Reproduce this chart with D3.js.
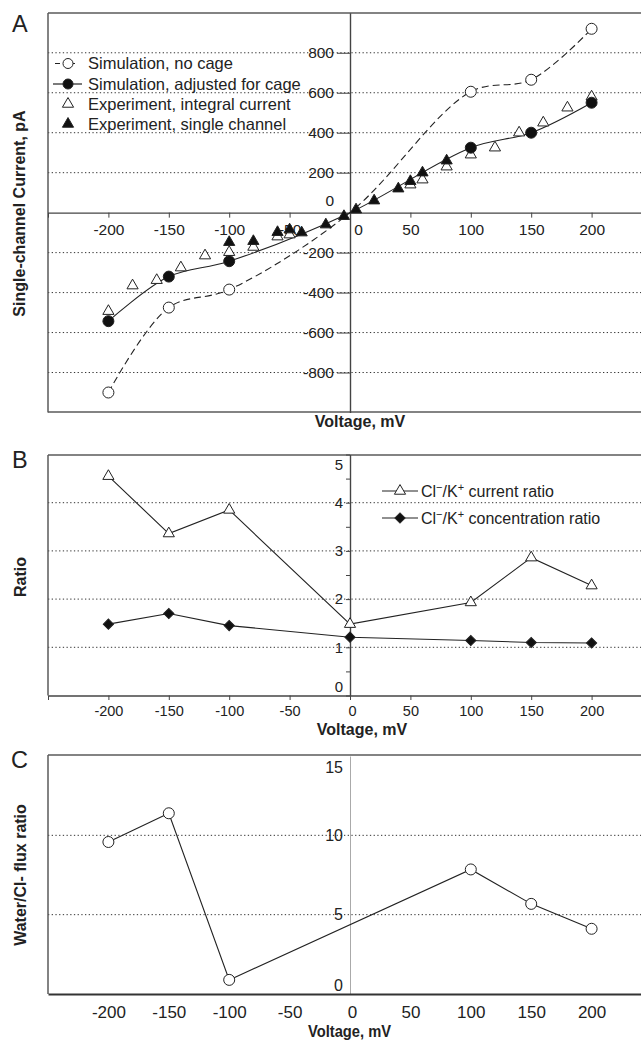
<!DOCTYPE html>
<html><head><meta charset="utf-8">
<script src="https://cdnjs.cloudflare.com/ajax/libs/d3/7.8.5/d3.min.js"></script>
<style>
body{margin:0;background:#fff}
svg{display:block}
text{font-family:"Liberation Sans",Arial,sans-serif;fill:#222}
</style>
</head><body><svg id="c" width="641" height="1040"></svg>
<script>
// ---------------- data ----------------
// Panel A
const simV = [-200, -150, -100, 0, 100, 150, 200];
const simNoCage = [-900, -475, -385, 0, 605, 665, 920];
const simCage = [-543, -320, -243, 0, 325, 400, 550];
const expIntV = [-200, -180, -160, -140, -120, -100, -80, -60, -50, 50, 60, 80, 100, 120, 140, 160, 180, 200];
const expIntI = [-493, -365, -338, -275, -215, -198, -172, -120, -110, 140, 165, 230, 290, 325, 400, 450, 525, 580];
const expSingleV = [-100, -80, -60, -50, -40, -20, -5, 5, 20, 40, 50, 60, 80];
const expSingleI = [-148, -143, -98, -85, -100, -60, -18, 15, 60, 120, 157, 200, 260];
const aYTicks = [-800, -600, -400, -200, 0, 200, 400, 600, 800];
const xTickLabels = [-200, -150, -100, -50, 0, 50, 100, 150, 200];
const xTickMarks = [-250, -200, -150, -100, -50, 0, 50, 100, 150, 200, 250];
const legendA = ["Simulation, no cage", "Simulation, adjusted for cage", "Experiment, integral current", "Experiment, single channel"];
// Panel B
const ratioV = [-200, -150, -100, 0, 100, 150, 200];
const currentRatio = [4.55, 3.36, 3.85, 1.48, 1.93, 2.86, 2.28];
const concRatio = [1.48, 1.70, 1.45, 1.21, 1.14, 1.10, 1.09];
const bYTicks = [0, 1, 2, 3, 4, 5];
const bMinorTicks = [0.5, 1.5, 2.5, 3.5, 4.5];
// Panel C
const fluxV = [-200, -150, -100, 100, 150, 200];
const fluxRatio = [9.58, 11.39, 0.89, 7.85, 5.68, 4.11];
const cYTicks = [0, 5, 10, 15];

// ---------------- helpers ----------------
const svg = d3.select("#c");
const INK = "#222", FRAME = "#5a5a5a", AX = "#444";
const RIGHT = 641;
const zip = (xs, ys) => xs.map((v, i) => ({v, y: ys[i]}));
const x = d3.scaleLinear().domain([-250, 250]).range([48, 652]);
const triPath = d3.symbol().type(d3.symbolTriangle).size(54)();
const diaPath = d3.symbol().type(d3.symbolSquare).size(52)();
const fmt = d => String(d);

function frame(top, bottom) {
  const g = svg.append("g").attr("stroke", FRAME).attr("stroke-width", 1.5).attr("fill", "none");
  g.append("line").attr("x1", x(-250)).attr("x2", x(-250)).attr("y1", top).attr("y2", bottom);
  g.append("line").attr("x1", x(-250)).attr("x2", RIGHT).attr("y1", top).attr("y2", top);
}
function grid(y, vals) {
  svg.append("g").selectAll("line").data(vals).join("line")
    .attr("x1", x(-250)).attr("x2", RIGHT)
    .attr("y1", d => y(d)).attr("y2", d => y(d))
    .attr("stroke", "#333").attr("stroke-width", 1).attr("stroke-dasharray", "1.3,2.4");
}
function styleAxis(g, color, width, fs) {
  g.select(".domain").attr("stroke", color).attr("stroke-width", width);
  g.selectAll(".tick line").attr("stroke", color).attr("stroke-width", 1);
  g.selectAll("text").attr("font-size", fs).attr("fill", "#222")
    .attr("font-family", '"Liberation Sans",Arial,sans-serif');
  g.attr("font-family", null).attr("font-size", null);
}
function markers(data, y, path, fill, extra) {
  return svg.append("g").selectAll("path").data(data).join("path")
    .attr("d", path)
    .attr("transform", d => `translate(${x(d.v)},${y(d.y)})${extra || ""}`)
    .attr("fill", fill).attr("stroke", INK).attr("stroke-width", 1);
}
function circles(data, y, fill, r) {
  return svg.append("g").selectAll("circle").data(data).join("circle")
    .attr("cx", d => x(d.v)).attr("cy", d => y(d.y)).attr("r", r)
    .attr("fill", fill).attr("stroke", INK).attr("stroke-width", 1);
}
function panelLetter(t, px, py) {
  svg.append("text").attr("x", px).attr("y", py).attr("font-size", 23.5).attr("fill", "#333").text(t);
}
function yTitle(t, px, cy) {
  svg.append("text").attr("transform", `translate(${px},${cy}) rotate(-90)`)
    .attr("text-anchor", "middle").attr("font-size", 16).attr("font-weight", "bold").text(t);
}

// ================= Panel A =================
const yA = d3.scaleLinear().domain([-1000, 1000]).range([412.5, 12.8]);
grid(yA, aYTicks.filter(d => d !== 0));
frame(13, 412.5);
svg.append("line").attr("x1", x(-250)).attr("x2", RIGHT).attr("y1", 412).attr("y2", 412)
  .attr("stroke", FRAME).attr("stroke-width", 1.5);

const axAx = svg.append("g").attr("transform", `translate(0,${yA(0)})`)
  .call(d3.axisBottom(x).tickValues(xTickMarks).tickSize(5).tickSizeOuter(0).tickPadding(6)
    .tickFormat(d => xTickLabels.includes(d) ? fmt(d) : ""));
styleAxis(axAx, AX, 1.4, 15.5);
axAx.selectAll(".tick text").filter(d => d === 0).attr("dx", 8);

const ayAx = svg.append("g").attr("transform", `translate(${x(0)},0)`)
  .call(d3.axisLeft(yA).tickValues(aYTicks).tickSize(13).tickSizeOuter(0).tickPadding(3).tickFormat(fmt));
styleAxis(ayAx, AX, 1.4, 15.5);
ayAx.selectAll(".tick").filter(d => d === 0).select("line").remove();
ayAx.selectAll(".tick text").filter(d => d === 0).attr("dy", "-0.45em");

yTitle("Single-channel Current, pA", 25, 213.5);
svg.append("text").attr("x", 360).attr("y", 427).attr("text-anchor", "middle")
  .attr("font-size", 16).attr("font-weight", "bold").text("Voltage, mV");
panelLetter("A", 12, 31.5);

const lineA = d3.line().x(d => x(d.v)).y(d => yA(d.y)).curve(d3.curveCatmullRom.alpha(0.5));
const noCage = zip(simV, simNoCage), cage = zip(simV, simCage);
svg.append("path").attr("d", lineA(noCage)).attr("fill", "none").attr("stroke", INK)
  .attr("stroke-width", 1.1).attr("stroke-dasharray", "7,4");
svg.append("path").attr("d", lineA(cage)).attr("fill", "none").attr("stroke", INK).attr("stroke-width", 1.1);

markers(zip(expIntV, expIntI), yA, triPath, "#fff");
circles(noCage.filter(d => d.v !== 0), yA, "#fff", 5.5);
circles(cage.filter(d => d.v !== 0), yA, "#111", 5.5);
markers(zip(expSingleV, expSingleI), yA, triPath, "#111");

// legend A
const legA = svg.append("g");
const legRows = [63.5, 84, 104, 124];
legRows.forEach((ly, i) => {
  legA.append("text").attr("x", 88).attr("y", ly).attr("dy", "0.36em").attr("font-size", 16.5).text(legendA[i]);
});
legA.append("line").attr("x1", 55).attr("x2", 82).attr("y1", legRows[0]).attr("y2", legRows[0])
  .attr("stroke", INK).attr("stroke-dasharray", "5,10").attr("stroke-dashoffset", 0);
legA.append("circle").attr("cx", 68).attr("cy", legRows[0]).attr("r", 5).attr("fill", "#fff").attr("stroke", INK);
legA.append("line").attr("x1", 53).attr("x2", 82).attr("y1", legRows[1]).attr("y2", legRows[1]).attr("stroke", INK).attr("stroke-width", 1.2);
legA.append("circle").attr("cx", 68).attr("cy", legRows[1]).attr("r", 5).attr("fill", "#111").attr("stroke", INK);
legA.append("path").attr("d", triPath).attr("transform", `translate(68,${legRows[2]})`).attr("fill", "#fff").attr("stroke", INK);
legA.append("path").attr("d", triPath).attr("transform", `translate(68,${legRows[3]})`).attr("fill", "#111").attr("stroke", INK);

// ================= Panel B =================
const yB = d3.scaleLinear().domain([0, 5]).range([695.5, 454.5]);
grid(yB, [1, 2, 3, 4]);
frame(455, 695.5);

const bxAx = svg.append("g").attr("transform", `translate(0,${yB(0)})`)
  .call(d3.axisBottom(x).tickValues(xTickMarks).tickSize(4.5).tickSizeOuter(0).tickPadding(6)
    .tickFormat(d => xTickLabels.includes(d) ? fmt(d) : ""));
styleAxis(bxAx, AX, 1.5, 14.5);
bxAx.selectAll(".tick text").filter(d => d === 0).attr("dx", 2);

const byAx = svg.append("g").attr("transform", `translate(${x(0)},0)`)
  .call(d3.axisLeft(yB).tickValues(bYTicks.concat(bMinorTicks)).tickSize(4).tickSizeOuter(0).tickPadding(3)
    .tickFormat(d => bYTicks.includes(d) ? fmt(d) : ""));
styleAxis(byAx, AX, 1.4, 15);
byAx.selectAll(".tick text").filter(d => d === 5).attr("dy", "1.0em");
byAx.selectAll(".tick text").filter(d => d === 0).attr("dy", "-0.28em");

yTitle("Ratio", 26, 577);
svg.append("text").attr("x", 362).attr("y", 735).attr("text-anchor", "middle")
  .attr("font-size", 16).attr("font-weight", "bold").text("Voltage, mV");
panelLetter("B", 12, 468);

const lineB = d3.line().x(d => x(d.v)).y(d => yB(d.y));
const cur = zip(ratioV, currentRatio), conc = zip(ratioV, concRatio);
svg.append("path").attr("d", lineB(cur)).attr("fill", "none").attr("stroke", INK).attr("stroke-width", 1.1);
svg.append("path").attr("d", lineB(conc)).attr("fill", "none").attr("stroke", INK).attr("stroke-width", 1.1);
markers(cur, yB, triPath, "#fff");
markers(conc, yB, diaPath, "#111", " rotate(45)");

// legend B
const legB = svg.append("g");
const legBRows = [491, 518];
const legBLabels = [" current ratio", " concentration ratio"];
legBRows.forEach((ly, i) => {
  legB.append("line").attr("x1", 382).attr("x2", 418).attr("y1", ly).attr("y2", ly).attr("stroke", INK).attr("stroke-width", 1.2);
  const t = legB.append("text").attr("x", 421).attr("y", ly).attr("dy", "0.36em").attr("font-size", 16);
  t.append("tspan").text("Cl");
  t.append("tspan").attr("font-size", 11).attr("dy", "-0.55em").text("\u2212");
  t.append("tspan").attr("dy", "0.38em").text("/K");
  t.append("tspan").attr("font-size", 11).attr("dy", "-0.55em").text("+");
  t.append("tspan").attr("dy", "0.38em").text(legBLabels[i]);
});
legB.append("path").attr("d", triPath).attr("transform", `translate(400,${legBRows[0]})`).attr("fill", "#fff").attr("stroke", INK);
legB.append("path").attr("d", diaPath).attr("transform", `translate(400,${legBRows[1]}) rotate(45)`).attr("fill", "#111").attr("stroke", INK);

// ================= Panel C =================
const yC = d3.scaleLinear().domain([0, 15]).range([994, 756]);
grid(yC, [5, 10]);
frame(755, 994);

const cyAx = svg.append("g").attr("transform", `translate(${x(0)},0)`)
  .call(d3.axisLeft(yC).tickValues(cYTicks).tickSize(0).tickSizeOuter(0).tickPadding(7).tickFormat(fmt));
styleAxis(cyAx, "#aaa", 1, 16);
cyAx.selectAll(".tick text").filter(d => d === 15).attr("dy", "1.0em");
cyAx.selectAll(".tick text").filter(d => d === 0).attr("dy", "-0.25em");

const cxAx = svg.append("g").attr("transform", `translate(0,${yC(0)})`)
  .call(d3.axisBottom(x).tickValues(xTickLabels).tickSize(0).tickSizeOuter(0).tickPadding(12).tickFormat(fmt));
styleAxis(cxAx, "#333", 2.2, 17);
cxAx.selectAll(".tick text").filter(d => d === 0).attr("dx", 2);

yTitle("Water/Cl- flux ratio", 25.5, 875);
svg.append("text").attr("x", 308).attr("y", 1037).attr("text-anchor", "start")
  .attr("font-size", 17).attr("font-weight", "bold")
  .attr("textLength", 83).attr("lengthAdjust", "spacingAndGlyphs")
  .text("Voltage, mV");
panelLetter("C", 11, 768);

const lineC = d3.line().x(d => x(d.v)).y(d => yC(d.y));
const flux = zip(fluxV, fluxRatio);
svg.append("path").attr("d", lineC(flux)).attr("fill", "none").attr("stroke", INK).attr("stroke-width", 1.1);
circles(flux, yC, "#fff", 5.5);
</script></body></html>
